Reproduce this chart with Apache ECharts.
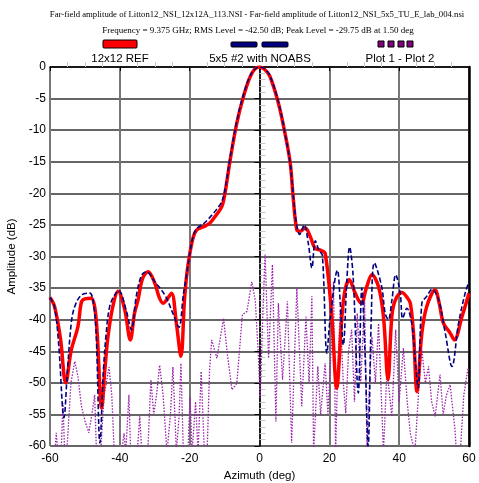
<!DOCTYPE html>
<html>
<head>
<meta charset="utf-8">
<script src="https://cdn.jsdelivr.net/npm/echarts@6/dist/echarts.min.js"></script>
<style>
html,body{margin:0;padding:0;background:#fff;overflow:hidden;}
#chart{width:479px;height:483px;}
</style>
</head>
<body>
<div id="chart"></div>
<script>
var chart = echarts.init(document.getElementById('chart'));

// 12x12 REF (red)
var refAz = [-60,-58.7,-57,-55.5,-53.9,-52,-51,-50,-48.2,-47.2,-46.5,-45.2,-44.3,-43.4,-42,-40.5,-38.6,-37,-35.8,-34.8,-33.5,-31.9,-30,-28.7,-27.6,-26.5,-25.2,-23.8,-22.5,-21.5,-20.9,-20.1,-19,-18,-16,-14.2,-12.5,-10.8,-9.9,-8.4,-6.5,-4.6,-2.2,0,1.5,3,5.4,7.3,8.8,9.7,10.7,11.6,13.1,14.5,15.9,17.4,18.8,20.7,22.1,23.6,24.5,25.7,27.4,29.1,30.7,32.2,34.1,35.5,36.8,37.9,38.9,40.8,42.3,43.2,44.1,45.1,46.5,47.9,50.3,51.5,52.7,54.6,55.8,58,60];
var refDb = [-36.5,-37.9,-43,-50,-44.8,-41.1,-37.2,-36.7,-36.6,-38,-42,-54,-48,-42.7,-37.9,-35.5,-38.4,-43.2,-39,-36.9,-33.5,-32.4,-34.2,-36.5,-37.4,-36.8,-35.8,-40.6,-45.8,-37,-33.2,-30,-27,-25.8,-25.3,-24.7,-23.5,-22.1,-20,-14.7,-8.9,-4.7,-1,0,-0.4,-1.5,-5.7,-10.5,-15.2,-21,-25.8,-26,-25.5,-26.8,-28.7,-29,-29.5,-39.5,-50.8,-39.5,-35.3,-33.7,-35.8,-37.4,-34.8,-32.9,-34.8,-39.5,-49.5,-39.5,-36.9,-35.7,-36.5,-37.4,-42.1,-51.4,-42.1,-37.9,-35.3,-37.5,-40.6,-42.1,-43.2,-39.5,-35.8];

// 5x5 #2 with NOABS (navy dashed)
var noabsAz = [-60,-58.7,-57.5,-56,-55,-53.9,-52.9,-51,-48.6,-47.7,-46.8,-45.7,-44.7,-43.9,-42.9,-41.5,-40.3,-38.1,-36.7,-35.3,-33.8,-32.4,-30,-27.1,-24.8,-23.1,-21.8,-20.9,-20.1,-19,-18,-16,-14.2,-12.5,-10.8,-9.9,-8.4,-6.5,-4.6,-2.2,0,1.5,3,5.4,7.3,8.8,9.7,10.5,11.5,12.8,14,15,16,17,18,19.3,20.2,22.3,23.2,24,25,25.8,26.8,28.3,29.3,30.2,31.1,32,32.9,35,36,36.9,37.9,39,40.3,41,42.2,43.6,44.6,45.4,46.5,47.9,49.4,51.3,53.2,55.1,57,58.9,60];
var noabsDb = [-36.5,-38,-44,-55.5,-48,-40.5,-37.9,-36.1,-35.8,-36.9,-42,-59.5,-48,-42.1,-37.9,-36.1,-35.4,-38.7,-41.6,-36.3,-33,-32.4,-34,-36.1,-39,-41.2,-36,-33,-30,-26.8,-25.6,-24.8,-23.8,-22.7,-21.3,-19.5,-14.3,-8.6,-4.4,-0.9,0,-0.3,-1.4,-5.5,-10.5,-15.3,-20.5,-24.5,-26.5,-25,-28,-31.8,-27.5,-29,-29.8,-45.3,-40,-32.2,-38,-44,-34,-28.5,-33,-51.6,-35,-45,-60,-40,-31,-34.8,-39,-40,-37,-32.9,-35.8,-39.8,-38.2,-40.6,-46.4,-50.8,-37.4,-36.3,-35.2,-36.9,-42.1,-47.4,-40.6,-35.8,-34];

// Plot 1 - Plot 2 (purple dotted)
var diffAz = [-60,-58.6,-58.2,-57.8,-56.8,-56.3,-55.8,-55.2,-54,-52.9,-52,-51,-50,-48.9,-48,-47.2,-46.7,-45.5,-44.5,-43.1,-42.3,-41.6,-39.5,-38.8,-38.3,-37.8,-37.4,-36.9,-35,-34.3,-33.7,-32,-31.1,-30.3,-29.5,-28.6,-27.6,-26.5,-25.5,-24.8,-23.8,-23,-22.5,-21.8,-20.5,-19.9,-19.3,-18.3,-17.6,-16.7,-15.8,-15,-14.3,-13.7,-12.2,-10.3,-9.3,-7.9,-6.5,-4.9,-3.6,-2.2,-1.2,-0.4,0.2,0.9,1.6,2.6,3.7,4.7,5.4,6.6,8,9.2,10.7,12.1,13.3,14.2,15,15.5,16.7,17.5,18.8,19.6,20.5,21.2,21.8,22.3,23.1,24,24.7,25.5,26.4,27.2,28,29,30.1,30.8,31.5,32.2,33.2,34.1,35.5,36.5,37.9,39,40,41.2,42.3,43.2,44.5,45.5,46.5,47.5,48.4,49.3,50.3,51.7,52.6,53.5,54.6,56,56.4,57.5,58.5,59.7,60];
var diffDb = [-61,-61,-57.9,-61,-61,-53.2,-61,-61,-50,-46.6,-49,-53.7,-56,-57.9,-55,-51.9,-61,-61,-52,-47.5,-52,-61,-61,-58,-61,-61,-51.9,-61,-61,-55.3,-61,-61,-49.5,-55,-52,-47.2,-52,-61,-55,-47.5,-61,-55,-46.9,-61,-61,-52.2,-61,-53,-61,-48.2,-61,-61,-48,-43.2,-46.1,-39.8,-45,-51.1,-50.1,-39.2,-38.7,-34,-37,-45,-52.4,-40,-29.7,-46.1,-31.3,-56.1,-37.4,-49.5,-37.1,-59.5,-35,-53.7,-39.5,-50,-36.3,-61,-47.4,-55,-46.9,-55,-45,-34,-61,-50,-38.4,-50,-54.8,-45,-41.6,-53,-39,-50,-36.3,-61,-50,-42.7,-50,-40.6,-61,-48,-55.3,-41.6,-53,-44.5,-53,-58,-61,-52,-44.8,-50,-47.4,-53,-55.3,-48.7,-55,-52,-50.3,-57.5,-61,-61,-52,-47.7,-48];

function pairs(xs, ys) {
    return xs.map(function (x, i) { return [x, ys[i]]; });
}

var sans = 'Liberation Sans, Arial, sans-serif';
var serif = 'Liberation Serif, Times New Roman, serif';

var option = {
    animation: false,
    backgroundColor: '#fff',
    title: [
        {
            text: 'Far-field amplitude of Litton12_NSI_12x12A_113.NSI - Far-field amplitude of Litton12_NSI_5x5_TU_E_lab_004.nsi',
            left: 252, top: 5, textAlign: 'center',
            textStyle: {fontFamily: serif, fontSize: 8.7, fontWeight: 'normal', color: '#000'}
        },
        {
            text: 'Frequency = 9.375 GHz; RMS Level = -42.50 dB; Peak Level = -29.75 dB at 1.50 deg',
            left: 253, top: 21, textAlign: 'center',
            textStyle: {fontFamily: serif, fontSize: 9, fontWeight: 'normal', color: '#000'}
        }
    ],
    grid: {left: 50, right: 10, top: 67, bottom: 37, containLabel: false, outerBoundsMode: 'none'},
    xAxis: [
        {
            type: 'value', min: -60, max: 60, interval: 20,
            name: 'Azimuth (deg)', nameLocation: 'middle', nameGap: 19,
            nameTextStyle: {fontFamily: sans, fontSize: 11.5, color: '#000'},
            axisLine: {lineStyle: {color: '#000', width: 1.5}},
            axisTick: {show: true, length: 4, lineStyle: {color: '#000'}},
            axisLabel: {fontFamily: sans, fontSize: 12, color: '#000', margin: 7},
            splitLine: {show: true, lineStyle: {color: '#777', width: 2}}
        },
        {   // minor ticks inside the bottom edge
            type: 'value', min: -60, max: 60, interval: 20, position: 'bottom',
            axisLine: {show: false},
            axisTick: {show: false, inside: true},
            axisLabel: {show: false},
            minorTick: {show: true, splitNumber: 4, length: 5, lineStyle: {color: '#c8c8c8', width: 1}},
            splitLine: {show: false}
        }
    ],
    yAxis: [
        {
            type: 'value', min: -60, max: 0, interval: 5,
            name: 'Amplitude (dB)', nameLocation: 'middle', nameGap: 31,
            nameTextStyle: {fontFamily: sans, fontSize: 11.5, color: '#000'},
            axisLine: {show: true, lineStyle: {color: '#000', width: 1.5}},
            axisTick: {show: true, length: 5, lineStyle: {color: '#000'}},
            axisLabel: {fontFamily: sans, fontSize: 12, color: '#000', margin: 4},
            splitLine: {show: true, lineStyle: {color: '#333', width: 1.5}}
        },
        {   // minor ticks inside the left edge
            type: 'value', min: -60, max: 0, interval: 5, position: 'left',
            axisLine: {show: false},
            axisTick: {show: false, inside: true},
            axisLabel: {show: false},
            minorTick: {show: true, splitNumber: 5, length: 6, lineStyle: {color: '#c8c8c8', width: 1}},
            splitLine: {show: false}
        },
        {   // right frame
            type: 'value', min: -60, max: 0, interval: 5, position: 'right',
            axisLine: {show: true, lineStyle: {color: '#000', width: 2.5}},
            axisTick: {show: false}, axisLabel: {show: false}, splitLine: {show: false}
        }
    ],
    series: [
        {
            name: 'Plot 1 - Plot 2', type: 'line', data: pairs(diffAz, diffDb),
            showSymbol: false, clip: true, z: 2,
            lineStyle: {color: '#9922aa', width: 1.3, type: [1.5, 1.5]}
        },
        {
            name: '12x12 REF', type: 'line', data: pairs(refAz, refDb),
            showSymbol: false, smooth: 0.35, clip: true, z: 3,
            lineStyle: {color: '#ff0000', width: 3.5}
        },
        {
            name: '5x5 #2 with NOABS', type: 'line', data: pairs(noabsAz, noabsDb),
            showSymbol: false, smooth: 0.35, clip: true, z: 4,
            lineStyle: {color: '#000080', width: 1.6, type: [5, 2.5]}
        }
    ],
    graphic: [
        // legend swatches
        {type: 'rect', shape: {x: 103, y: 40, width: 34, height: 8, r: 1}, style: {fill: '#ff0000', stroke: '#000', lineWidth: 1}},
        {type: 'rect', shape: {x: 231, y: 42, width: 26, height: 5, r: 1}, style: {fill: '#000080', stroke: '#000', lineWidth: 1}},
        {type: 'rect', shape: {x: 262, y: 42, width: 26, height: 5, r: 1}, style: {fill: '#000080', stroke: '#000', lineWidth: 1}},
        {type: 'rect', shape: {x: 378, y: 41, width: 6, height: 6}, style: {fill: '#800080', stroke: '#000', lineWidth: 1}},
        {type: 'rect', shape: {x: 388, y: 41, width: 6, height: 6}, style: {fill: '#800080', stroke: '#000', lineWidth: 1}},
        {type: 'rect', shape: {x: 398, y: 41, width: 6, height: 6}, style: {fill: '#800080', stroke: '#000', lineWidth: 1}},
        {type: 'rect', shape: {x: 407, y: 41, width: 6, height: 6}, style: {fill: '#800080', stroke: '#000', lineWidth: 1}},
        // legend labels
        {type: 'text', x: 120, y: 59, style: {text: '12x12 REF', font: '11.5px ' + sans, fill: '#000', textAlign: 'center', textVerticalAlign: 'middle'}},
        {type: 'text', x: 260, y: 59, style: {text: '5x5 #2 with NOABS', font: '11.5px ' + sans, fill: '#000', textAlign: 'center', textVerticalAlign: 'middle'}},
        {type: 'text', x: 400, y: 59, style: {text: 'Plot 1 - Plot 2', font: '11.5px ' + sans, fill: '#000', textAlign: 'center', textVerticalAlign: 'middle'}}
    ]
};
chart.setOption(option);
</script>
</body>
</html>
